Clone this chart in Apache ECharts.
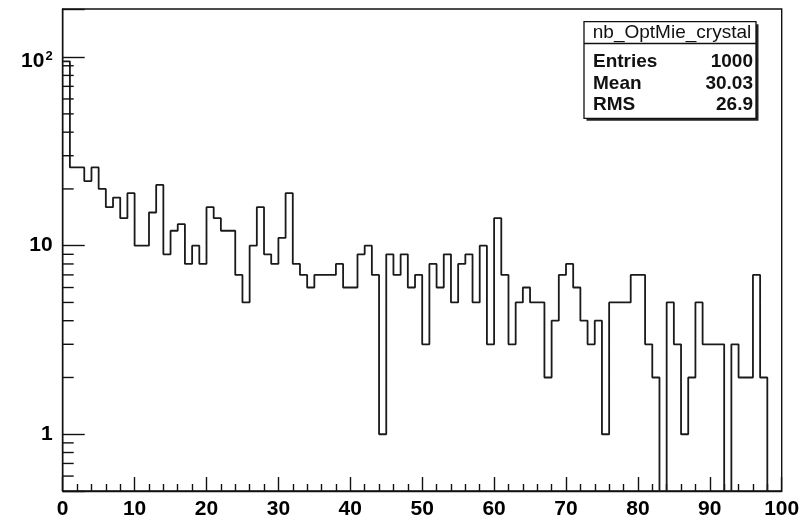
<!DOCTYPE html>
<html>
<head>
<meta charset="utf-8">
<script src="https://cdn.jsdelivr.net/npm/echarts@6/dist/echarts.min.js"></script>
<style>
  html, body { margin: 0; padding: 0; background: #fff; }
  #chart { width: 812px; height: 520px; }
</style>
</head>
<body>
<div id="chart"></div>
<script>
// ---- data ----
var histName = 'nb_OptMie_crystal';
var xRange = [0, 100];
var nBins = 100;
var counts = [
  95, 26, 26, 22, 26, 20, 16, 18, 14, 19,
  10, 10, 15, 21,  9, 12, 13,  8, 10,  8,
  16, 14, 12, 12,  7,  5, 10, 16,  9,  8,
  11, 19,  8,  7,  6,  7,  7,  7,  8,  6,
   6,  9, 10,  7,  1,  9,  7,  9,  6,  7,
   3,  8,  6,  9,  5,  8,  9,  5, 10,  3,
  14,  7,  3,  5,  6,  5,  5,  2,  4,  7,
   8,  6,  4,  3,  4,  1,  5,  5,  5,  7,
   7,  3,  2,  0,  5,  3,  1,  2,  5,  3,
   3,  3,  0,  3,  2,  2,  7,  2,  0,  0
];
var statLabels = ['Entries', 'Mean', 'RMS'];
var statValues = ['1000', '30.03', '26.9'];
var yRange = [0.5, 180];
var yMajorTicks = [1, 10, 100];
var yMinorTicks = [0.6, 0.7, 0.8, 0.9, 2, 3, 4, 5, 6, 7, 8, 9, 20, 30, 40, 50, 60, 70, 80, 90];

// ---- build step-line points from bins ----
var binW = (xRange[1] - xRange[0]) / nBins;
var floorVal = 0.05; // empty bins drop below the frame (clipped)
var pts = [];
for (var i = 0; i < nBins; i++) {
  var c = counts[i] > 0 ? counts[i] : floorVal;
  pts.push([xRange[0] + i * binW, c]);
}
pts.push([xRange[1], counts[nBins - 1] > 0 ? counts[nBins - 1] : floorVal]);

var FONT = 'Liberation Sans';
var INK = '#111';

var chart = echarts.init(document.getElementById('chart'), null, { renderer: 'canvas' });

var boxL = 584, boxT = 21.7, boxW = 172, boxH = 96.6;
var rowY = [62, 83.5, 104.5];
var graphics = [
  { type: 'rect', shape: { x: boxL + 2.5, y: boxT + 2.5, width: boxW, height: boxH }, style: { fill: '#222' }, z: 100 },
  { type: 'rect', shape: { x: boxL, y: boxT, width: boxW, height: boxH }, style: { fill: '#fff', stroke: INK, lineWidth: 1.3 }, z: 101 },
  { type: 'line', shape: { x1: boxL, y1: 43.5, x2: boxL + boxW, y2: 43.5 }, style: { stroke: INK, lineWidth: 1.3 }, z: 102 },
  { type: 'text', x: boxL + boxW / 2 + 2, y: 33, style: { text: histName, font: '19px "' + FONT + '"', fill: INK, align: 'center', verticalAlign: 'middle' }, z: 103 }
];
for (var k = 0; k < statLabels.length; k++) {
  graphics.push({ type: 'text', x: 593, y: rowY[k], style: { text: statLabels[k], font: 'bold 19px "' + FONT + '"', fill: INK, align: 'left', verticalAlign: 'middle' }, z: 103 });
  graphics.push({ type: 'text', x: 753, y: rowY[k], style: { text: statValues[k], font: 'bold 19px "' + FONT + '"', fill: INK, align: 'right', verticalAlign: 'middle' }, z: 103 });
}

var option = {
  animation: false,
  backgroundColor: '#fff',
  grid: {
    left: 62.7, right: 30.3, top: 9, bottom: 26,
    show: true, borderColor: INK, borderWidth: 1.4, backgroundColor: 'transparent'
  },
  xAxis: {
    type: 'value', min: xRange[0], max: xRange[1], interval: 10,
    axisLine: { show: true, lineStyle: { color: INK, width: 1.4 } },
    axisTick: { show: true, inside: true, length: 14, lineStyle: { color: INK, width: 1.4 } },
    minorTick: { show: true, splitNumber: 5, length: 7, lineStyle: { color: INK, width: 1.4 } },
    splitLine: { show: false },
    axisLabel: { margin: 8, color: '#000', fontFamily: FONT, fontWeight: 'bold', fontSize: 21 }
  },
  yAxis: {
    type: 'log', logBase: 10, min: yRange[0], max: yRange[1],
    axisLine: { show: true, lineStyle: { color: INK, width: 1.4 } },
    axisTick: { show: true, inside: true, length: 22, lineStyle: { color: INK, width: 1.4 } },
    splitLine: { show: false },
    axisLabel: {
      margin: 10, color: '#000', fontFamily: FONT, fontWeight: 'bold', fontSize: 21,
      formatter: function (v) {
        var r = Math.round(v * 1000) / 1000;
        if (yMajorTicks.indexOf(r) < 0) return '';
        if (r >= 100) {
          var e = Math.round(Math.log10(r));
          return '{b|10}{s|' + e + '}';
        }
        return String(r);
      },
      rich: {
        b: { fontFamily: FONT, fontWeight: 'bold', fontSize: 21, color: '#000', padding: [8, 0, 0, 0] },
        s: { fontFamily: FONT, fontWeight: 'bold', fontSize: 13, color: '#000', padding: [0, 0, 1, 1] }
      }
    }
  },
  series: [
    {
      type: 'line', step: 'end', data: pts, symbol: 'none', clip: true,
      lineStyle: { color: '#1a1a1a', width: 1.8 }, z: 3
    },
    {
      type: 'custom', silent: true, clip: false, z: 4,
      data: yMinorTicks.map(function (v) { return [xRange[0], v]; }),
      encode: { x: 0, y: 1 },
      renderItem: function (params, api) {
        var p = api.coord([api.value(0), api.value(1)]);
        return { type: 'line', shape: { x1: p[0], y1: p[1], x2: p[0] + 11, y2: p[1] }, style: { stroke: INK, lineWidth: 1.4 } };
      }
    }
  ],
  graphic: graphics
};
chart.setOption(option);
</script>
</body>
</html>
